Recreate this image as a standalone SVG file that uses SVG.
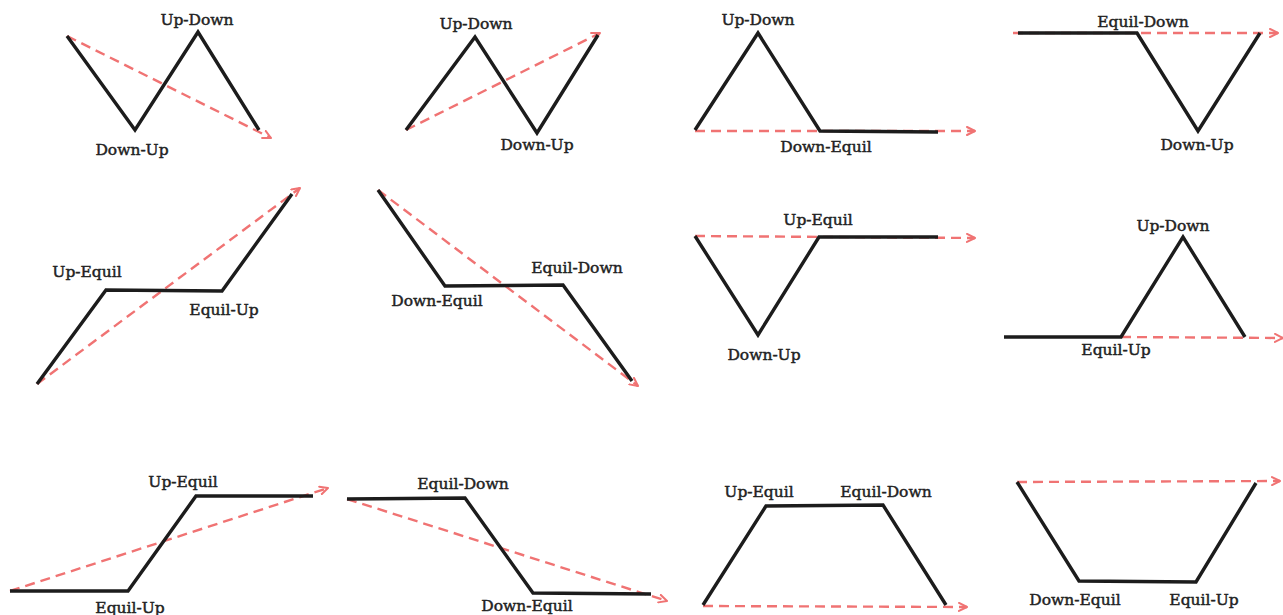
<svg xmlns="http://www.w3.org/2000/svg" width="1283" height="615" viewBox="0 0 1283 615">
<defs>
<marker id="arr" viewBox="0 0 10 10" refX="9" refY="5" markerWidth="10" markerHeight="10" markerUnits="userSpaceOnUse" orient="auto">
<path d="M1,1 L9,5 L1,9" fill="none" stroke="#f07373" stroke-width="2" stroke-linecap="round" stroke-linejoin="round"/>
</marker>
<style>
.p{fill:none;stroke:#1c1c1c;stroke-width:3.4;stroke-linejoin:miter;stroke-linecap:butt}
.d{fill:none;stroke:#f07373;stroke-width:2.4;stroke-dasharray:10 6;marker-end:url(#arr)}
.t{font-family:"DejaVu Serif","Liberation Serif",serif;font-size:15.5px;fill:#222;stroke:#222;stroke-width:0.45;text-anchor:middle}
</style>
</defs>
<rect width="1283" height="615" fill="#ffffff"/>
<g id="connectors">
<line class="d" x1="67" y1="36" x2="271" y2="138"/>
<line class="d" x1="406" y1="130" x2="600" y2="33"/>
<line class="d" x1="695" y1="131" x2="975" y2="131"/>
<line class="d" x1="1013" y1="33" x2="1278" y2="33"/>
<line class="d" x1="37" y1="384" x2="300" y2="188"/>
<line class="d" x1="378" y1="190" x2="638" y2="386"/>
<line class="d" x1="695" y1="236" x2="975" y2="238"/>
<line class="d" x1="1121" y1="337" x2="1283" y2="338"/>
<line class="d" x1="10" y1="591" x2="328" y2="488"/>
<line class="d" x1="347" y1="499" x2="667" y2="601"/>
<line class="d" x1="703" y1="606" x2="967" y2="607"/>
<line class="d" x1="1017" y1="482" x2="1280" y2="481"/>
</g>
<g id="nodes">
<g id="p1"><polyline class="p" points="67,36 135,130 198,32 259,130"/><text class="t" x="197" y="25">Up-Down</text><text class="t" x="132" y="155">Down-Up</text></g>
<g id="p2"><polyline class="p" points="406,130 475,37 537,133 598,35"/><text class="t" x="476" y="29">Up-Down</text><text class="t" x="537" y="150">Down-Up</text></g>
<g id="p3"><polyline class="p" points="695,130 758,33 820,131 938,132"/><text class="t" x="758" y="25">Up-Down</text><text class="t" x="826" y="152">Down-Equil</text></g>
<g id="p4"><polyline class="p" points="1018,33 1137,33 1198,131 1260,33"/><text class="t" x="1143" y="27">Equil-Down</text><text class="t" x="1197" y="150">Down-Up</text></g>
<g id="p5"><polyline class="p" points="37,384 106,290 222,291 292,194"/><text class="t" x="87" y="277">Up-Equil</text><text class="t" x="224" y="315">Equil-Up</text></g>
<g id="p6"><polyline class="p" points="378,190 445,286 563,285 632,381"/><text class="t" x="577" y="273">Equil-Down</text><text class="t" x="437" y="306">Down-Equil</text></g>
<g id="p7"><polyline class="p" points="695,236 758,335 819,237 938,237"/><text class="t" x="818" y="225">Up-Equil</text><text class="t" x="764" y="360">Down-Up</text></g>
<g id="p8"><polyline class="p" points="1004,337 1121,337 1183,237 1245,337"/><text class="t" x="1173" y="231">Up-Down</text><text class="t" x="1116" y="355">Equil-Up</text></g>
<g id="p9"><polyline class="p" points="10,591 128,591 196,496 313,496"/><text class="t" x="183" y="487">Up-Equil</text><text class="t" x="130" y="613">Equil-Up</text></g>
<g id="p10"><polyline class="p" points="347,499 465,498 533,593 651,594"/><text class="t" x="463" y="489">Equil-Down</text><text class="t" x="527" y="611">Down-Equil</text></g>
<g id="p11"><polyline class="p" points="703,605 766,506 883,505 946,605"/><text class="t" x="759" y="497">Up-Equil</text><text class="t" x="886" y="497">Equil-Down</text></g>
<g id="p12"><polyline class="p" points="1017,482 1079,581 1196,582 1256,483"/><text class="t" x="1075" y="605">Down-Equil</text><text class="t" x="1204" y="605">Equil-Up</text></g>
</g>
</svg>
